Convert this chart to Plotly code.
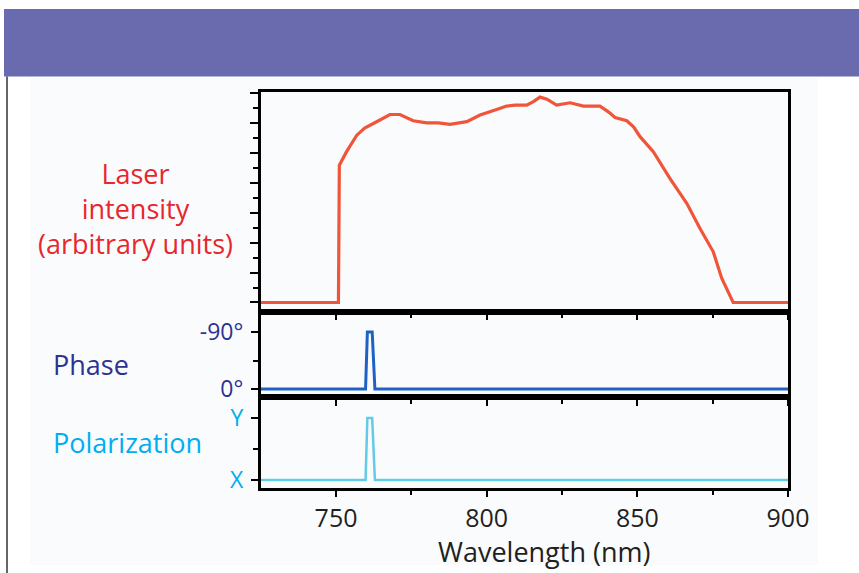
import plotly.graph_objects as go

# ---------------- data ----------------
wavelength_int = [725, 750.8, 751.1, 753.5, 756.9, 759.5, 762.4, 765.0, 767.9, 771.2, 775.6,
                  780.1, 784.0, 787.8, 790.5, 793.4, 797.8, 800.5, 803.3, 806.6, 809.5,
                  813.3, 815.5, 817.7, 820.0, 823.2, 825.5, 827.7, 832.1, 837.6, 840.5,
                  842.6, 846.5, 848.8, 850.9, 855.3, 860.8, 866.4, 870.8, 875.2, 878.0,
                  881.8, 900]
intensity = [0, 0, 4.58, 5.03, 5.58, 5.82, 5.97, 6.12, 6.27, 6.27, 6.06,
             5.99, 5.99, 5.94, 5.98, 6.03, 6.25, 6.33, 6.44, 6.55, 6.58,
             6.58, 6.7, 6.85, 6.78, 6.58, 6.62, 6.66, 6.55, 6.55, 6.35,
             6.17, 6.06, 5.85, 5.53, 5.03, 4.14, 3.31, 2.47, 1.69, 0.81,
             0, 0]

wavelength_pulse = [725, 759.8, 760.4, 762.0, 762.9, 900]
phase = [0, 0, -90, -90, 0, 0]
polarization = [0, 0, 1, 1, 0, 0]

x_ticks = [750, 800, 850, 900]
phase_ticks = [-90, 0]
phase_labels = ["-90°", "0°"]
pol_ticks = [0, 1]
pol_labels = ["X", "Y"]

# ---------------- styling ----------------
W, H = 859, 573
FONT = "Open Sans"
RED_TXT = "#e8262d"
RED_LINE = "#f0553a"
NAVY = "#2e3192"
BLUE_LINE = "#1f62c6"
CYAN_TXT = "#00aeef"
CYAN_LINE = "#62cbe6"
DARK = "#231f20"
LBL = 27
XTCK = 25
YTCK = 23

def px(xpix):
    return xpix / W

def py(ypix):
    return 1 - ypix / H

xdom = [px(260.7), px(788)]
dom_top = [py(311.7), py(91.7)]
dom_mid = [py(397), py(311.7)]
dom_bot = [py(488), py(397)]

fig = go.Figure()
fig.add_trace(go.Scatter(x=wavelength_int, y=intensity, mode="lines",
                         line=dict(color=RED_LINE, width=3.2), xaxis="x", yaxis="y",
                         showlegend=False, hoverinfo="skip"))
fig.add_trace(go.Scatter(x=wavelength_pulse, y=phase, mode="lines",
                         line=dict(color=BLUE_LINE, width=3), xaxis="x2", yaxis="y2",
                         showlegend=False, hoverinfo="skip"))
fig.add_trace(go.Scatter(x=wavelength_pulse, y=polarization, mode="lines",
                         line=dict(color=CYAN_LINE, width=2.5), xaxis="x3", yaxis="y3",
                         showlegend=False, hoverinfo="skip"))

axis_common = dict(showline=True, linecolor="black", linewidth=2.5, mirror=True,
                   showgrid=False, zeroline=False, ticks="outside", tickcolor="black",
                   tickwidth=2, automargin=False)

xcommon = dict(axis_common, range=[725, 900], domain=xdom, tickvals=x_ticks, ticklen=6,
               minor=dict(tickvals=[775, 825, 875], ticks="outside", ticklen=4,
                          tickwidth=2, tickcolor="black"))

fig.update_layout(
    width=W, height=H, autosize=False,
    margin=dict(l=0, r=0, t=0, b=0, pad=0),
    paper_bgcolor="white",
    plot_bgcolor="#fbfcfe",
    font=dict(family=FONT, color=DARK, size=XTCK),
    xaxis=dict(xcommon, anchor="y", showticklabels=False),
    xaxis2=dict(xcommon, anchor="y2", showticklabels=False),
    xaxis3=dict(xcommon, anchor="y3", showticklabels=True,
                tickfont=dict(family=FONT, size=XTCK, color=DARK)),
    yaxis=dict(axis_common, domain=dom_top, anchor="x", range=[-0.307, 7.03],
               tickvals=[0, 1, 2, 3, 4, 5, 6, 7], showticklabels=False, ticklen=8,
               minor=dict(tickvals=[0.5, 1.5, 2.5, 3.5, 4.5, 5.5, 6.5], ticks="outside",
                          ticklen=5, tickwidth=2, tickcolor="black")),
    yaxis2=dict(axis_common, domain=dom_mid, anchor="x2", range=[12.6, -122],
                tickvals=phase_ticks, ticktext=phase_labels, ticklen=7,
                tickfont=dict(family=FONT, size=YTCK, color=NAVY), ticklabelstandoff=3,
                minor=dict(tickvals=[-45], ticks="outside", ticklen=5, tickwidth=2,
                           tickcolor="black")),
    yaxis3=dict(axis_common, domain=dom_bot, anchor="x3", range=[-0.129, 1.339],
                tickvals=pol_ticks, ticktext=pol_labels, ticklen=7,
                tickfont=dict(family=FONT, size=YTCK, color=CYAN_TXT), ticklabelstandoff=3,
                minor=dict(tickvals=[0.5], ticks="outside", ticklen=5, tickwidth=2,
                           tickcolor="black")),
)

shapes = [
    dict(type="rect", xref="paper", yref="paper", x0=px(30), x1=px(818), y0=py(565), y1=py(78),
         fillcolor="#fafbfd", line=dict(width=0), layer="below"),
    dict(type="rect", xref="paper", yref="paper", x0=px(4), x1=1, y0=py(76.5), y1=py(9),
         fillcolor="#6a6aae", line=dict(width=0), layer="above"),
    dict(type="line", xref="paper", yref="paper", x0=px(7), x1=px(7), y0=0, y1=py(76.5),
         line=dict(color="#333333", width=1.5)),
]
fig.update_layout(shapes=shapes)

annotations = [
    dict(text="Laser<br>intensity<br>(arbitrary units)", x=px(135), y=py(208),
         xref="paper", yref="paper", showarrow=False, xanchor="center", yanchor="middle",
         align="center", font=dict(family=FONT, size=LBL, color=RED_TXT)),
    dict(text="Phase", x=px(51), y=py(364), xref="paper", yref="paper", showarrow=False,
         xanchor="left", yanchor="middle", font=dict(family=FONT, size=LBL, color=NAVY)),
    dict(text="Polarization", x=px(51), y=py(443), xref="paper", yref="paper", showarrow=False,
         xanchor="left", yanchor="middle", font=dict(family=FONT, size=LBL, color=CYAN_TXT)),
    dict(text="Wavelength (nm)", x=px(544), y=py(551), xref="paper", yref="paper",
         showarrow=False, xanchor="center", yanchor="middle",
         font=dict(family=FONT, size=LBL, color=DARK)),
]
fig.update_layout(annotations=annotations)

post = "document.body.style.margin='0';document.body.style.overflow='hidden';"

fig.write_html("out.html",
               config={"displayModeBar": False},
               post_script=post)
